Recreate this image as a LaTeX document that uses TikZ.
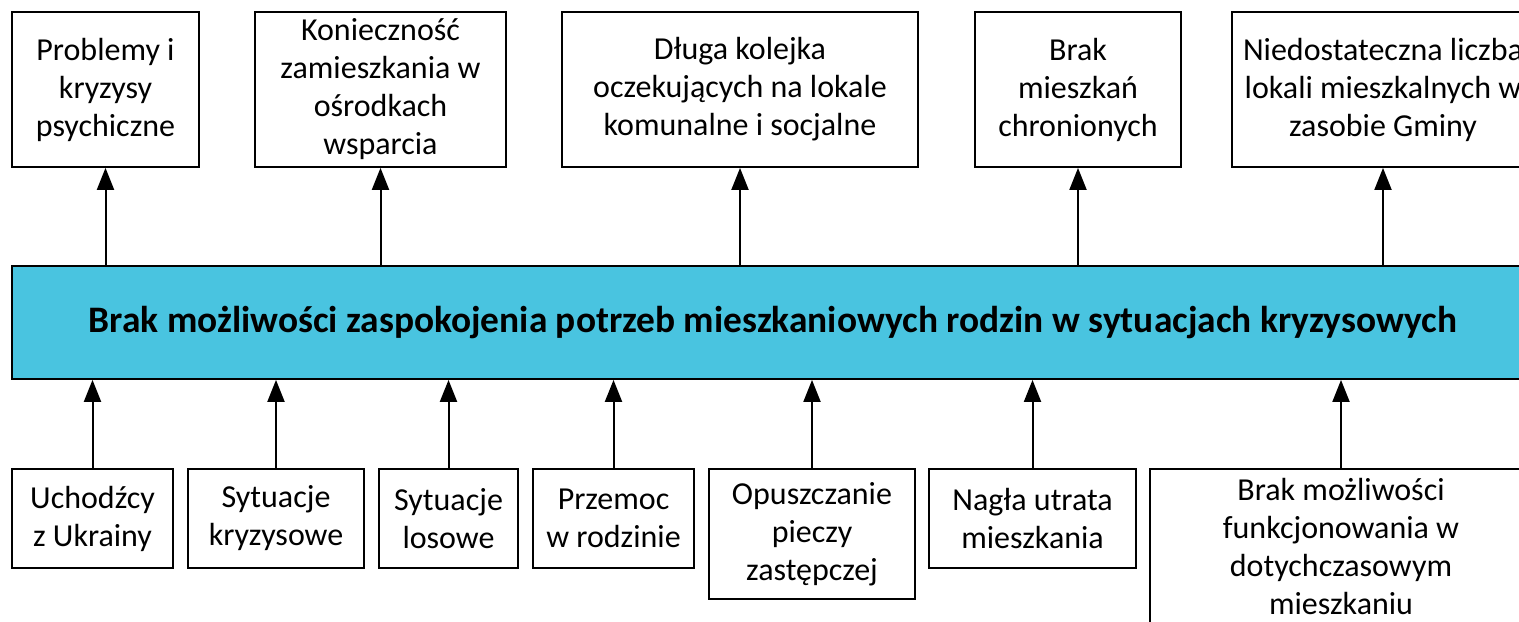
\documentclass[tikz,border=0pt]{standalone}
\usepackage{fontspec}
\setmainfont{Carlito}
\usetikzlibrary{arrows.meta}

\definecolor{barblue}{RGB}{73,196,224}

\tikzset{
  box/.style={draw, line width=0.9pt, align=center, inner sep=0pt,
    font=\fontsize{16}{19}\selectfont},
  link/.style={line width=1pt, -{Triangle[length=11pt,width=8.5pt]}}
}

\begin{document}
\begin{tikzpicture}[x=0.5pt,y=-0.5pt]
  \clip (0,0) rectangle (1519,621);

  \node[box, fill=barblue, minimum width=761pt, minimum height=56.5pt,
    font=\bfseries\fontsize{18.7}{22}\selectfont] (bar) at (773,322.5)
    {Brak możliwości zaspokojenia potrzeb mieszkaniowych rodzin w sytuacjach kryzysowych};

  \node[box, minimum width=93.5pt, minimum height=77.5pt] (probl) at (105.5,89.5) {Problemy i\\kryzysy\\psychiczne};
  \node[box, minimum width=125.5pt, minimum height=77.5pt] (koniecz) at (380.5,89.5) {Konieczność\\zamieszkania w\\ośrodkach\\wsparcia};
  \node[box, minimum width=178pt, minimum height=77.5pt] (kolejka) at (740,89.5) {Długa kolejka\\oczekujących na lokale\\komunalne i socjalne};
  \node[box, minimum width=103pt, minimum height=77.5pt] (chron) at (1078,89.5) {Brak\\mieszkań\\chronionych};
  \node[box, minimum width=151pt, minimum height=77.5pt] (lokale) at (1383,89.5) {Niedostateczna liczba\\lokali mieszkalnych w\\zasobie Gminy};

  \node[box, minimum width=80.5pt, minimum height=49.5pt] (uchodz) at (92.5,518.5) {Uchodźcy\\z Ukrainy};
  \node[box, minimum width=88pt, minimum height=49.5pt] (kryzys) at (276,518.5) {Sytuacje\\kryzysowe};
  \node[box, minimum width=69.5pt, minimum height=49.5pt] (losowe) at (448.5,518.5) {Sytuacje\\losowe};
  \node[box, minimum width=80.5pt, minimum height=49.5pt] (przemoc) at (613.5,518.5) {Przemoc\\w rodzinie};
  \node[box, minimum width=103pt, minimum height=65pt] (piecza) at (812,534) {Opuszczanie\\pieczy\\zastępczej};
  \node[box, minimum width=103.5pt, minimum height=49.5pt] (utrata) at (1032.5,518.5) {Nagła utrata\\mieszkania};
  \node[box, minimum width=191pt, minimum height=77.5pt] (funkcj) at (1341,546.5) {Brak możliwości\\funkcjonowania w\\dotychczasowym\\mieszkaniu};

  \draw[link] (bar.north -| probl) -- (probl.south);
  \draw[link] (bar.north -| koniecz) -- (koniecz.south);
  \draw[link] (bar.north -| kolejka) -- (kolejka.south);
  \draw[link] (bar.north -| chron) -- (chron.south);
  \draw[link] (bar.north -| lokale) -- (lokale.south);

  \draw[link] (uchodz.north) -- (bar.south -| uchodz);
  \draw[link] (kryzys.north) -- (bar.south -| kryzys);
  \draw[link] (losowe.north) -- (bar.south -| losowe);
  \draw[link] (przemoc.north) -- (bar.south -| przemoc);
  \draw[link] (piecza.north) -- (bar.south -| piecza);
  \draw[link] (utrata.north) -- (bar.south -| utrata);
  \draw[link] (funkcj.north) -- (bar.south -| funkcj);
\end{tikzpicture}
\end{document}
